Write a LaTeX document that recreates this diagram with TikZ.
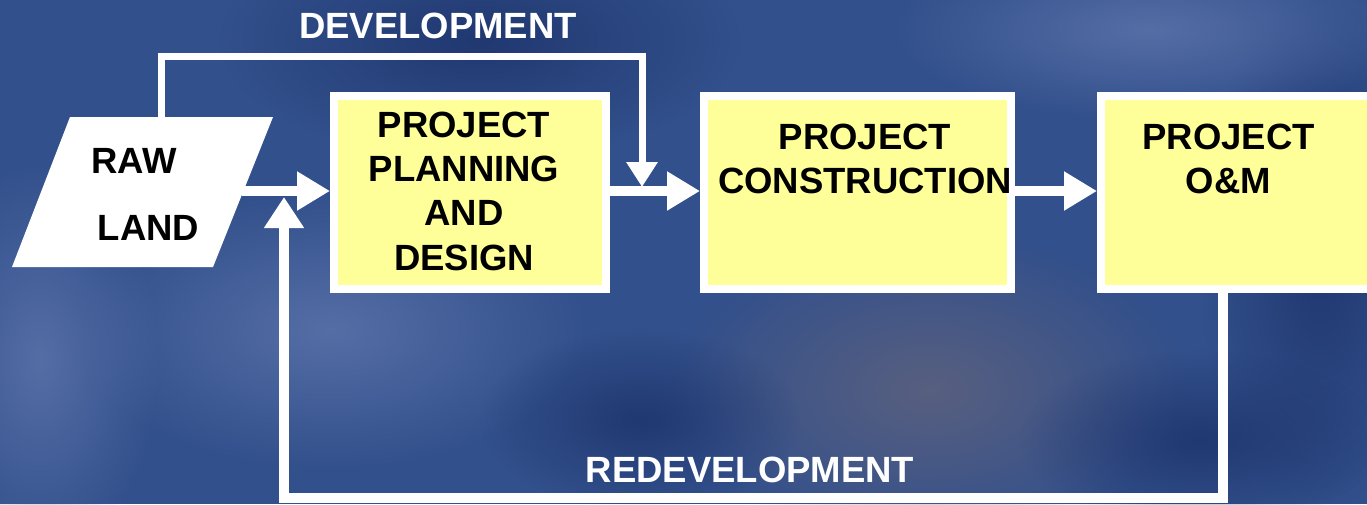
\documentclass[tikz,border=0pt]{standalone}
\usepackage{fontspec}
\setmainfont{Liberation Sans}
\usetikzlibrary{arrows.meta,fadings}
\tikzfading[name=softblob, inner color=transparent!15, outer color=transparent!100]
\definecolor{bgbase}{RGB}{50,80,140}
\definecolor{bgdark}{RGB}{30,52,108}
\definecolor{bglight}{RGB}{92,115,170}
\definecolor{bggrey}{RGB}{95,98,125}
\definecolor{boxyellow}{RGB}{255,255,153}
\begin{document}
\begin{tikzpicture}[x=1pt,y=-1pt,
  bigtext/.style={font=\fontsize{36.5}{44.3}\selectfont\bfseries, inner sep=0pt, align=center},
  labeltext/.style={bigtext, text=white},
  boxtext/.style={bigtext, text=black},
  stagebox/.style={draw=white, line width=8pt, fill=boxyellow, minimum height=193pt, inner sep=0pt},
  flow/.style={draw=white, line width=10pt, -{Triangle[length=33pt,width=37pt]}},
  devline/.style={draw=white, line width=7pt, line join=miter, -{Triangle[length=25pt,width=30pt]}},
  redline/.style={draw=white, line width=10pt, line join=miter, -{Triangle[length=31pt,width=38pt]}}
]
% background
\useasboundingbox (0,0) rectangle (1367,504);
\fill[bgbase] (0,0) rectangle (1367,504);
\fill[bgdark, path fading=softblob] (480,40) ellipse [x radius=260, y radius=120];
\fill[bgdark, path fading=softblob] (1320,260) ellipse [x radius=120, y radius=260];
\fill[bglight, path fading=softblob] (1150,30) ellipse [x radius=260, y radius=90];
\fill[bglight, path fading=softblob] (330,330) ellipse [x radius=260, y radius=140];
\fill[bglight, path fading=softblob] (40,360) ellipse [x radius=120, y radius=200];
\fill[bggrey, path fading=softblob] (930,390) ellipse [x radius=260, y radius=160];
\fill[bgdark, path fading=softblob] (640,420) ellipse [x radius=160, y radius=90];
\fill[bgdark, path fading=softblob] (1200,440) ellipse [x radius=180, y radius=90];

% raw land parallelogram
\coordinate (pTL) at (70,117);
\coordinate (pTR) at (273,117);
\coordinate (pBR) at (213,267);
\coordinate (pBL) at (12,267);
\coordinate (landout) at (242,191);
\coordinate (devstart) at (161.5,117);
\coordinate (devtop) at (642,56);
\coordinate (devend) at (642,187);
\coordinate (redbot) at (284,498);
\coordinate (redend) at (284,197);

% boxes
\node[stagebox, minimum width=272pt] (b1) at (470,192.5) {};
\node[stagebox, minimum width=307pt] (b2) at (857.5,192.5) {};
\node[stagebox, minimum width=300pt] (b3) at (1251,192.5) {};
\coordinate (redstart) at ([xshift=-28pt]b3.south);

% connectors
\draw[devline] (devstart) -- (devstart |- devtop) -- (devtop) -- (devend);
\draw[flow] (landout) -- (landout -| b1.west);
\draw[flow] (b1.east |- landout) -- (b2.west |- landout);
\draw[flow] (b2.east |- landout) -- (b3.west |- landout);
\draw[redline] (redstart) -- (redstart |- redbot) -- (redbot) -- (redend);

\fill[white] (pTL) -- (pTR) -- (pBR) -- (pBL) -- cycle;

% texts
\node[boxtext, anchor=base] (raw) at (134,173) {RAW};
\node[boxtext, anchor=base] (land) at (148.5,240) {LAND};
\node[boxtext] (t1) at (464,191) {PROJECT\\PLANNING\\AND\\DESIGN};
\node[boxtext] (t2) at (865,159) {PROJECT\\CONSTRUCTION};
\node[boxtext] (t3) at (1228.5,159) {PROJECT\\O\&M};
\node[labeltext, anchor=base] (dev) at (438,38) {DEVELOPMENT};
\node[labeltext, anchor=base] (redev) at (750,482) {REDEVELOPMENT};
\end{tikzpicture}
\end{document}
